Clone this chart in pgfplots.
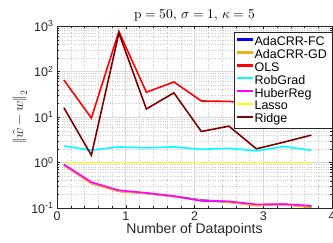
\documentclass[border=0pt]{standalone}
\usepackage{fontspec}
\setmainfont{Liberation Sans}
\usepackage{unicode-math}
\setmathfont{latinmodern-math.otf}
\usepackage{pgfplots}
\pgfplotsset{compat=1.18}
\definecolor{mblue}{rgb}{0,0,1}
\definecolor{morange}{rgb}{0.929,0.694,0.125}
\definecolor{mred}{rgb}{1,0,0}
\definecolor{mcyan}{rgb}{0,1,1}
\definecolor{mmag}{rgb}{1,0,1}
\definecolor{myel}{rgb}{1,1,0}
\definecolor{mdred}{rgb}{0.5,0,0}
\definecolor{axgray}{rgb}{0.15,0.15,0.15}
\begin{document}
\begin{tikzpicture}[x=1pt,y=1pt]
\begin{axis}[
  at={(0,0)}, anchor=south west,
  scale only axis, width=275pt, height=182pt,
  ymode=log, xmin=0, xmax=40000, ymin=0.1, ymax=1000,
  xtick={0,10000,20000,30000,40000}, xticklabels={0,1,2,3,4},
  scaled x ticks=false,
  minor x tick num=4,
  ytick={0.1,1,10,100,1000},
  yticklabels={{10\textsuperscript{-1}},{10\textsuperscript{0}},{10\textsuperscript{1}},{10\textsuperscript{2}},{10\textsuperscript{3}}},
  grid=both,
  major grid style={black!15, line width=0.5pt},
  minor grid style={black!20, dotted, line width=0.4pt},
  axis line style={axgray, line width=0.6pt},
  tick style={axgray},
  tick align=inside,
  major tick length=3pt, minor tick length=1.8pt,
  ticklabel style={font=\fontsize{12.5}{14}\selectfont, text=axgray},
  title={$\symup{p}=50,\,\sigma=1,\,\kappa=5$},
  title style={font=\fontsize{13.5}{15}\selectfont, yshift=-5pt},
  xlabel={Number of Datapoints},
  xlabel style={font=\fontsize{14}{16}\selectfont, text=axgray, yshift=4pt},
  ylabel={$\|\hat{w}-w\|_2$},
  ylabel style={font=\fontsize{14}{16}\selectfont, text=axgray, yshift=-3pt},
  legend style={at={(1,0.967)}, anchor=north east, draw=axgray,
    font=\fontsize{12.5}{13}\selectfont, row sep=-1.5pt},
  legend cell align=left,
  legend image code/.code={\fill[#1, draw=none] (0cm,0.9pt) rectangle (0.55cm,3.1pt);},
]
\addplot[mblue, line width=1.6pt] coordinates {(1000,0.88) (5000,0.35) (9000,0.235) (13000,0.21) (17000,0.18) (21000,0.15) (25000,0.135) (29000,0.115) (33000,0.12) (37000,0.105)};
\addlegendentry{AdaCRR-FC}
\addplot[morange, line width=1.6pt] coordinates {(1000,0.87) (5000,0.345) (9000,0.232) (13000,0.208) (17000,0.178) (21000,0.148) (25000,0.133) (29000,0.113) (33000,0.118) (37000,0.103)};
\addlegendentry{AdaCRR-GD}
\addplot[mred, line width=1.6pt] coordinates {(1000,65) (5000,9.5) (9000,760) (13000,35) (17000,59) (21000,22.5) (25000,22) (29000,20) (33000,24) (37000,21)};
\addlegendentry{OLS}
\addplot[mcyan, line width=1.6pt] coordinates {(1000,2.3) (5000,1.87) (9000,2.2) (13000,2.1) (17000,2.2) (21000,1.95) (25000,2.05) (29000,1.8) (33000,2.25) (37000,1.85)};
\addlegendentry{RobGrad}
\addplot[mmag, line width=1.6pt] coordinates {(1000,0.91) (5000,0.37) (9000,0.245) (13000,0.215) (17000,0.183) (21000,0.143) (25000,0.14) (29000,0.12) (33000,0.122) (37000,0.112)};
\addlegendentry{HuberReg}
\addplot[myel, line width=1.6pt] coordinates {(1000,1) (5000,1) (9000,1) (13000,1) (17000,1) (21000,1) (25000,1) (29000,1) (33000,1) (37000,1)};
\addlegendentry{Lasso}
\addplot[mdred, line width=1.6pt] coordinates {(1000,16) (5000,1.44) (9000,700) (13000,15) (17000,34) (21000,4.8) (25000,6.3) (29000,2.0) (33000,2.8) (37000,4)};
\addlegendentry{Ridge}
\node[anchor=base west, font=\fontsize{12}{14}\selectfont, text=axgray] at (rel axis cs:0.89,0) [yshift=-31pt] {×10\textsuperscript{4}};
\end{axis}
\pgfresetboundingbox
\path (-57,-34) rectangle (276,208);
\end{tikzpicture}
\end{document}
